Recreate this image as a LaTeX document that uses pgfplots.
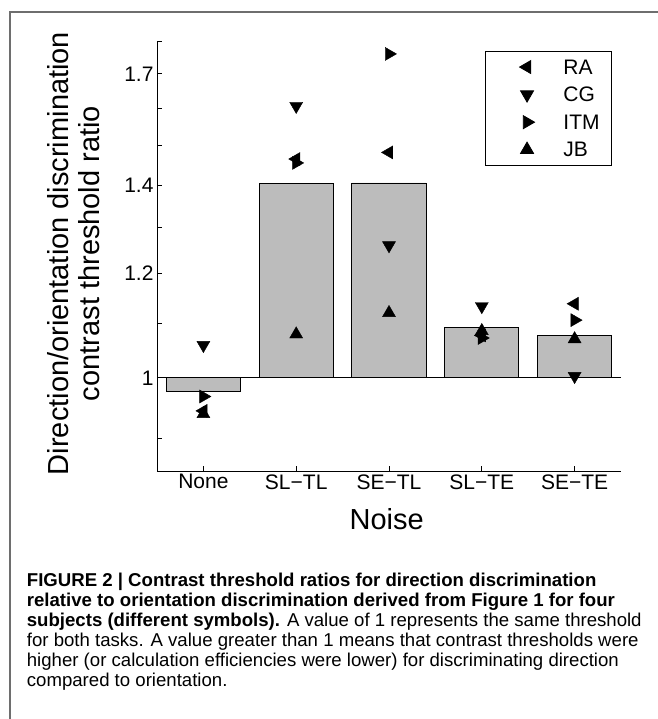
\documentclass[border=0pt]{standalone}
\usepackage{fontspec}
\setmainfont{Liberation Sans}
\usepackage{pgfplots}
\pgfplotsset{compat=1.18}
\definecolor{barfill}{RGB}{188,188,188}
\definecolor{framegray}{RGB}{110,110,110}
\pgfplotsset{every axis plot post/.append style={legend image code/.code={\path (-31pt,0pt) (34pt,0pt); \draw[##1] plot coordinates {(0pt,0pt)};}}}
\begin{document}
\begin{tikzpicture}
\useasboundingbox (0pt,0pt) rectangle (657pt,-719pt);
\draw[framegray, line width=1.3pt] (10pt,-719pt) -- (10pt,-12pt) -- (660pt,-12pt);
\begin{axis}[
  at={(157pt,-471pt)}, anchor=south west,
  scale only axis, width=464pt, height=430pt,
  ymode=log, ymin=0.85, ymax=1.8, xmin=0.5, xmax=5.5,
  log origin y=0,
  axis x line*=bottom, axis y line*=left,
  axis line style={-, line width=0.9pt},
  tick align=inside, major tick length=5pt,
  tick style={line width=0.9pt, black},
  xtick={1,2,3,4,5},
  xticklabels={None,SL−TL,SE−TL,SL−TE,SE−TE},
  ytick={0.9,1,1.1,1.2,1.3,1.4,1.5,1.6,1.7,1.8},
  yticklabels={,1,,1.2,,1.4,,,1.7,},
  minor tick num=0,
  ticklabel style={font=\fontsize{21}{25}\selectfont},
  /pgf/number format/assume math mode=true,
  xlabel={Noise},
  xlabel style={at={(axis description cs:0.495,-0.1349)}, anchor=base, font=\fontsize{29}{31}\selectfont},
  ylabel={Direction/orientation discrimination\\contrast threshold ratio},
  ylabel style={at={(axis description cs:-0.1789,0.5058)}, anchor=center, align=center, font=\fontsize{29}{31}\selectfont},
  clip=false,
  legend style={at={(0.9806,0.9767)}, anchor=north east, draw=black, line width=0.8pt,
    font=\fontsize{21}{25}\selectfont, inner xsep=10pt, inner ysep=6.4pt,
    nodes={inner sep=2pt, text depth=0pt}, row sep=9pt},
  legend cell align=left,
]
\addplot[ybar, bar width=0.8, fill=barfill, draw=black, line width=0.9pt, forget plot]
  coordinates {(1,0.977) (2,1.403) (3,1.405) (4,1.0925) (5,1.0775)};
\addplot[black, line width=0.9pt, forget plot] coordinates {(0.5,1) (5.5,1)};
\addplot[only marks, mark=triangle*, mark size=7.5pt, mark options={rotate=90, fill=black, draw=black}]
  coordinates {(1,0.944) (2,1.465) (3,1.482) (4,1.077) (5,1.138)};
\addlegendentry{RA}
\addplot[only marks, mark=triangle*, mark size=7.5pt, mark options={rotate=180, fill=black, draw=black}]
  coordinates {(1,1.0588) (2,1.607) (3,1.26) (4,1.133) (5,1.003)};
\addlegendentry{CG}
\addplot[only marks, mark=triangle*, mark size=7.5pt, mark options={rotate=-90, fill=black, draw=black}]
  coordinates {(1,0.968) (2,1.455) (3,1.760) (4,1.072) (5,1.106)};
\addlegendentry{ITM}
\addplot[only marks, mark=triangle*, mark size=7.5pt, mark options={fill=black, draw=black}]
  coordinates {(1,0.939) (2,1.079) (3,1.12) (4,1.0854) (5,1.07)};
\addlegendentry{JB}
\end{axis}
\begin{scope}[every node/.style={anchor=base west, inner sep=0pt, font=\fontsize{18.6}{20}\selectfont}]
\node at (26.7pt,-586pt) {\bfseries FIGURE 2 | Contrast threshold ratios for direction discrimination};
\node at (26.7pt,-606pt) {\bfseries relative to orientation discrimination derived from Figure 1 for four};
\node at (26.7pt,-626pt) {\textbf{subjects (different symbols).} A value of 1 represents the same threshold};
\node at (26.7pt,-646pt) {for both tasks. A value greater than 1 means that contrast thresholds were};
\node at (26.7pt,-666pt) {higher (or calculation efficiencies were lower) for discriminating direction};
\node at (26.7pt,-686pt) {compared to orientation.};
\end{scope}
\end{tikzpicture}
\end{document}
